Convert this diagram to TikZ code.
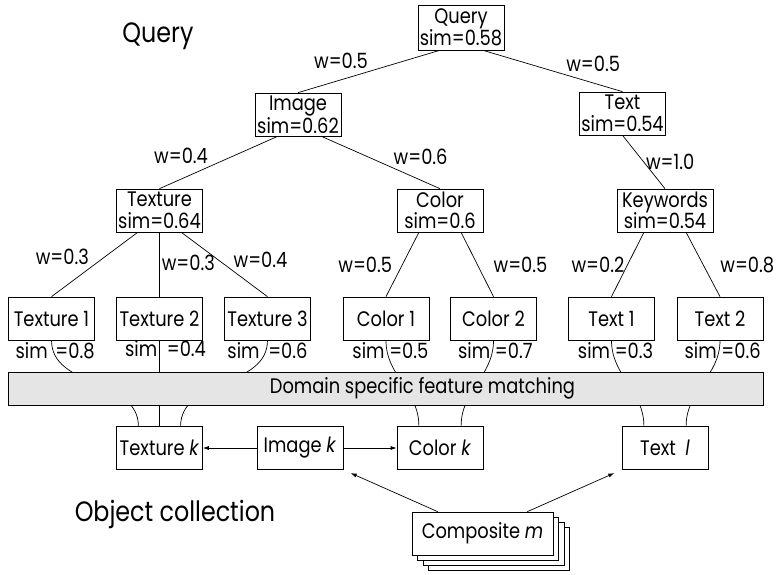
\documentclass[tikz,border=0pt]{standalone}
\usepackage{fontspec}
\setmainfont{Poppins}[FakeStretch=0.85]
\usetikzlibrary{arrows.meta}

\begin{document}
\begin{tikzpicture}[x=1pt,y=-1pt]
\fontsize{21}{21.5}\selectfont
\useasboundingbox (0,0) rectangle (777,574);
\begin{scope}[line width=0.7pt,
              block1/.style={rectangle,draw,align=center,inner sep=0.5pt,
                             minimum width=86pt,minimum height=43pt},
              block2/.style={rectangle,align=center,inner sep=1pt},
              bar/.style={rectangle,draw,fill=black!10,
                          minimum width=755pt,minimum height=33pt},
              lab/.style={inner sep=2pt},
              tip/.style={-{Latex[length=6pt,width=4pt]}}]
    % query tree
    \node [block1,minimum height=45pt] (query) at (461,27.5) {Query \\ sim=0.58};
    \node [block1] (image) at (298,114.5) {Image \\ sim=0.62};
    \node [block1] (text) at (622.5,113.5) {Text \\ sim=0.54};
    \node [block1] (texture) at (159.5,210.5) {Texture \\ sim=0.64};
    \node [block1] (color) at (440,210.5) {Color \\ sim=0.6};
    \node [block1,minimum width=96pt] (keywords) at (665,210.5) {Keywords \\ sim=0.54};
    \node [block1] (texture1) at (51.5,318.5) {Texture 1};
    \node [block1] (texture2) at (159.5,318.5) {Texture 2};
    \node [block1] (texture3) at (267.5,318.5) {Texture 3};
    \node [block1] (color1) at (386,318.5) {Color 1};
    \node [block1] (color2) at (493.5,318.5) {Color 2};
    \node [block1] (text1) at (611.5,318.5) {Text 1};
    \node [block1] (text2) at (720,318.5) {Text 2};
    \path (query.-133) edge node [lab,pos=0.49,above left] {w=0.5} (image.north);
    \path (query.-46) edge node [lab,pos=0.58,above right] {w=0.5} (text.north);
    \path (image.-133) edge node [lab,pos=0.57,above left] {w=0.4} (texture.north);
    \path (image.-43) edge node [lab,pos=0.59,above right] {w=0.6} (color.north);
    \path (text.south) edge node [lab,pos=0.5,right] {w=1.0} (keywords.north);
    \path (texture.-135) edge node [lab,pos=0.54,above left] {w=0.3} (texture1.north);
    \path (texture.south) edge node [lab,pos=0.48,right] {w=0.3} (texture2.north);
    \path (texture.-45) edge node [lab,pos=0.58,above right] {w=0.4} (texture3.north);
    \path (color.-134) edge node [lab,pos=0.5,left=8pt] {w=0.5} (color1.north);
    \path (color.-46) edge node [lab,pos=0.5,right=14pt] {w=0.5} (color2.north);
    \path (keywords.-134) edge node [lab,pos=0.5,left=1pt] {w=0.2} (text1.north);
    \path (keywords.-46) edge node [lab,pos=0.5,right=15pt] {w=0.8} (text2.north);
    % object collection
    \node [block1] (texturek) at (159.5,448) {Texture \textit{k}};
    \node [block1] (imagek) at (300,448) {Image \textit{k}};
    \node [block1] (colork) at (440,448) {Color \textit{k}};
    \node [block1] (textl) at (665,448) {Text\ \ \textit{l}};
    \foreach \i in {3,2,1}
        \node [block1,fill=white,minimum width=141pt] (composite\i)
            at (482.5+5.5*\i,533.5+5*\i) {};
    \node [block1,fill=white,minimum width=141pt] (composite) at (482.5,533.5) {Composite \textit{m}};
    % similarities through the matching layer
    \draw (texture1.south) to [out=-90,in=90] node [lab,pos=0.08,left=3pt] {sim} node [lab,pos=0.08,right] {=0.8} (texturek.134);
    \draw (texture2.south) -- node [lab,pos=0.1,left] {sim} node [lab,pos=0.1,right=5pt] {=0.4} (texturek.north);
    \draw (texture3.south) to [out=-90,in=90] node [lab,pos=0.08,left=4pt] {sim} node [lab,pos=0.08,right] {=0.6} (texturek.46);
    \draw (color1.south) to [out=-90,in=90] node [lab,pos=0.1,left] {sim} node [lab,pos=0.1,right] {=0.5} (colork.134);
    \draw (color2.south) to [out=-90,in=90] node [lab,pos=0.1,left] {sim} node [lab,pos=0.1,right] {=0.7} (colork.46);
    \draw (text1.south) to [out=-90,in=90] node [lab,pos=0.1,left] {sim} node [lab,pos=0.1,right] {=0.3} (textl.134);
    \draw (text2.south) to [out=-90,in=90] node [lab,pos=0.1,left] {sim} node [lab,pos=0.1,right] {=0.6} (textl.46);
    \node [bar,label={[xshift=37pt]center:Domain specific feature matching}] (matching) at (385.5,388.5) {};
    \path [tip] (imagek) edge (texturek);
    \path [tip] (imagek) edge (colork);
    \path [tip] (composite.154) edge [shorten >=8pt] (imagek.south east);
    \path [tip] (composite.26) edge [shorten >=8pt] (textl.south west);
    % titles
    \node [block2,font=\fontsize{28}{30}\selectfont] (querytitle) at (158,36) {Query};
    \node [block2,font=\fontsize{28}{30}\selectfont] (objecttitle) at (175,514) {Object collection};
\end{scope}
\end{tikzpicture}
\end{document}
